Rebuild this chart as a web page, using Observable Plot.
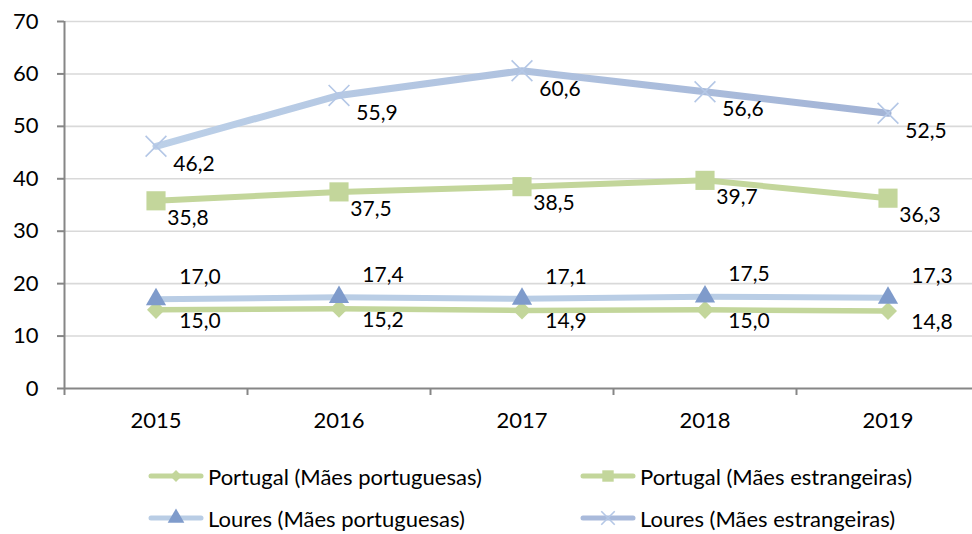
<!DOCTYPE html>
<html>
<head>
<meta charset="utf-8">
<script src="https://cdn.jsdelivr.net/npm/d3@7"></script>
<script src="https://cdn.jsdelivr.net/npm/@observablehq/plot@0.6"></script>
<style>
  html, body { margin: 0; padding: 0; background: #fff; }
  #chart svg { display: block; }
  #legend { position: relative; height: 94px; font-family: Lato, sans-serif; font-size: 22px; color: #000; }
  .item { position: absolute; display: flex; align-items: center; white-space: nowrap; }
  .item svg { display: block; margin-right: 4px; }
</style>
</head>
<body>
<div id="chart"></div>
<div id="legend"></div>
<script>
// ---- data ----
const years = [2015, 2016, 2017, 2018, 2019];
const seriesNames = [
  "Portugal (Mães portuguesas)",
  "Portugal (Mães estrangeiras)",
  "Loures (Mães portuguesas)",
  "Loures (Mães estrangeiras)"
];
const portugalPortuguesas = [15.0, 15.2, 14.9, 15.0, 14.8];
const portugalEstrangeiras = [35.8, 37.5, 38.5, 39.7, 36.3];
const louresPortuguesas = [17.0, 17.4, 17.1, 17.5, 17.3];
const louresEstrangeiras = [46.2, 55.9, 60.6, 56.6, 52.5];
const yTicks = [0, 10, 20, 30, 40, 50, 60, 70];

// ---- styles ----
const green = "#c3d69b";
const styles = [
  {line: green, width: 5.5, symbol: "square", rotate: 45, r: 7.2, fill: green, stroke: "none", dx: 44, dy: 11},
  {line: green, width: 6, symbol: "square", rotate: 0, r: 10.8, fill: green, stroke: "none", dx: 32, dy: 17},
  {line: "#b9cde5", width: 6, symbol: "triangle", rotate: 0, r: 7.5, fill: "#7f9bcb", stroke: "none", dx: 44, dy: -22},
  {line: "url(#lgrad)", width: 7, symbol: "times", rotate: 0, r: 9.5, fill: "none", stroke: "#b4c7e6", dx: 38, dy: 18}
];

const values = [portugalPortuguesas, portugalEstrangeiras, louresPortuguesas, louresEstrangeiras];
const series = seriesNames.map((name, i) => years.map((year, j) => ({year, value: values[i][j], name})));
const fmt = v => v.toFixed(1).replace(".", ",");
const boundaries = years.map(y => y - 0.5);

const defs = () => {
  const g = d3.create("svg:defs");
  const lg = g.append("linearGradient").attr("id", "lgrad").attr("x1", 0).attr("x2", 1).attr("y1", 0).attr("y2", 0);
  lg.append("stop").attr("offset", "0%").attr("stop-color", "#bcd0e8");
  lg.append("stop").attr("offset", "100%").attr("stop-color", "#a3b4d6");
  return g.node();
};

const marks = [
  defs,
  Plot.ruleY(yTicks.filter(v => v > 0), {stroke: "#d9d9d9", strokeWidth: 1.6}),
  Plot.ruleX([years[0] - 0.5], {y1: 0, y2: 70, stroke: "#868686", strokeWidth: 2}),
  Plot.ruleY([0], {stroke: "#868686", strokeWidth: 2}),
  Plot.axisY({ticks: yTicks, tickSize: 7, tickPadding: 19, fontSize: 22, stroke: "#868686", strokeWidth: 2, tickFormat: d => String(d), label: null}),
  Plot.axisX({ticks: boundaries, tickSize: 7, tickFormat: () => "", stroke: "#868686", strokeWidth: 2, label: null}),
  Plot.axisX({ticks: years, tickSize: 0, tickPadding: 24, fontSize: 22, tickFormat: d => String(d), label: null})
];

series.forEach((data, i) => {
  const s = styles[i];
  marks.push(Plot.line(data, {x: "year", y: "value", stroke: s.line, strokeWidth: s.width}));
  marks.push(Plot.dot(data, {x: "year", y: "value", symbol: s.symbol, r: s.r, rotate: s.rotate,
    fill: s.fill, stroke: s.stroke, strokeWidth: 1.6}));
});
series.forEach((data, i) => {
  const s = styles[i];
  marks.push(Plot.text(data, {x: "year", y: "value", text: d => fmt(d.value), dx: s.dx, dy: s.dy, fontSize: 21, fill: "#000"}));
});

const chart = Plot.plot({
  width: 972,
  height: 440,
  marginLeft: 64,
  marginRight: -7,
  marginTop: 21,
  marginBottom: 52,
  style: {fontFamily: "Lato, sans-serif", color: "#000", background: "#fff", overflow: "hidden"},
  x: {type: "linear", domain: [years[0] - 0.5, years[years.length - 1] + 0.5]},
  y: {domain: [0, 70]},
  marks
});
document.getElementById("chart").appendChild(chart);

// ---- legend ----
const legend = d3.select("#legend");
const legendPos = [[148, 36], [580, 36], [148, 78], [580, 78]];
const legendMarkerColor = ["#c3d69b", "#c3d69b", "#7f9bcb", "#b4c7e6"];
const legendLineColor = ["#c3d69b", "#c3d69b", "#b9cde5", "#a9badb"];
seriesNames.forEach((name, i) => {
  const s = styles[i];
  const item = legend.append("div").attr("class", "item")
    .style("left", legendPos[i][0] + "px").style("top", (legendPos[i][1] - 12) + "px").style("height", "24px");
  const sv = item.append("svg").attr("width", 56).attr("height", 24);
  sv.append("line").attr("x1", 3).attr("x2", 53).attr("y1", 12).attr("y2", 12)
    .attr("stroke", legendLineColor[i]).attr("stroke-width", 5).attr("stroke-linecap", "round");
  const symMap = {square: d3.symbolSquare, triangle: d3.symbolTriangle, times: d3.symbolTimes};
  const size = [70, 130, 120, 120][i];
  sv.append("path").attr("d", d3.symbol(symMap[s.symbol], size)())
    .attr("transform", `translate(28,12) rotate(${s.rotate})`)
    .attr("fill", s.symbol === "times" ? "none" : legendMarkerColor[i])
    .attr("stroke", s.symbol === "times" ? legendMarkerColor[i] : "none")
    .attr("stroke-width", 1.6);
  item.append("span").text(name);
});
</script>
</body>
</html>
